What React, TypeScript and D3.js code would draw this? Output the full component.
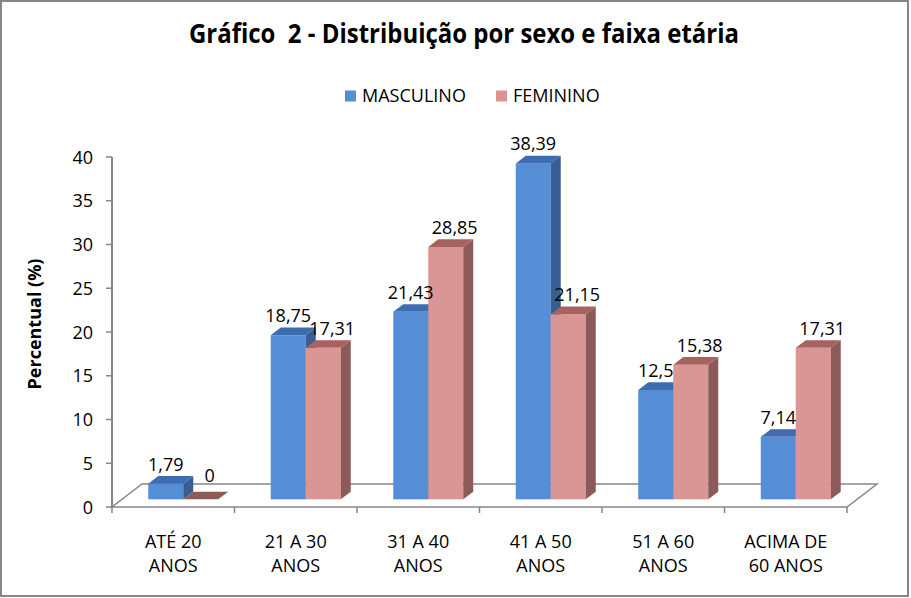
import { useMemo } from "react";
import * as d3 from "d3";

const WIDTH = 911;
const HEIGHT = 598;
const FONT = "'Open Sans', 'Noto Sans', sans-serif";

// data
const categories = [
  ["ATÉ 20", "ANOS"],
  ["21 A 30", "ANOS"],
  ["31 A 40", "ANOS"],
  ["41 A 50", "ANOS"],
  ["51 A 60", "ANOS"],
  ["ACIMA DE", "60 ANOS"],
];
const seriesNames = ["MASCULINO", "FEMININO"];
const masculino = [1.79, 18.75, 21.43, 38.39, 12.5, 7.14];
const feminino = [0, 17.31, 28.85, 21.15, 15.38, 17.31];
const yTicks = [0, 5, 10, 15, 20, 25, 30, 35, 40];

const PLOT = { left: 112, right: 847, top: 157, bottom: 507 };
const DEPTH = { dx: 30, dy: -23 };

const SERIES_COLORS = [
  { front: "#558ed5", top: "#3d6db0", side: "#375d92" },
  { front: "#d99694", top: "#a7625f", side: "#8c5a58" },
];

const fmt = (v: number) => String(v).replace(".", ",");

export default function App() {
  const catKeys = categories.map((c) => c.join(" "));

  const xScale = useMemo(
    () =>
      d3.scaleBand<string>().domain(catKeys).range([PLOT.left, PLOT.right]),
    []
  );
  const yScale = useMemo(
    () => d3.scaleLinear().domain([0, 40]).range([PLOT.bottom, PLOT.top]),
    []
  );

  const bw = xScale.bandwidth();
  const barW = bw / 3.5;
  // bars sit in the middle third of the floor depth
  const f0 = { dx: DEPTH.dx / 3, dy: DEPTH.dy / 3 };
  const bd = { dx: DEPTH.dx / 3, dy: DEPTH.dy / 3 };

  const bars = [masculino, feminino].flatMap((values, s) =>
    values.map((v, i) => {
      const x0 = (xScale(catKeys[i]) ?? 0) + bw / 2 - barW + s * barW + f0.dx;
      const yb = yScale(0) + f0.dy;
      const yt = yScale(v) + f0.dy;
      return { s, i, v, x0, x1: x0 + barW, yb, yt };
    })
  );

  const pts = (arr: number[][]) => arr.map((p) => p.join(",")).join(" ");

  return (
    <div style={{ position: "absolute", left: 0, top: 0 }}>
      <svg width={WIDTH} height={HEIGHT} style={{ display: "block" }}>
        <rect x={0} y={0} width={WIDTH} height={HEIGHT} fill="#fff" />
        <rect
          x={1}
          y={1}
          width={907}
          height={595}
          fill="#fff"
          stroke="#868686"
          strokeWidth={2}
        />

        {/* title */}
        <text
          x={464}
          y={43}
          textAnchor="middle"
          fontFamily={FONT}
          fontWeight="bold"
          fontSize={26}
          textLength={550}
          lengthAdjust="spacingAndGlyphs"
          style={{ whiteSpace: "pre" }}
        >
          {"Gráfico  2 - Distribuição por sexo e faixa etária"}
        </text>

        {/* legend */}
        {seriesNames.map((name, s) => {
          const lx = [345, 496][s];
          return (
            <g key={name}>
              <rect
                x={lx}
                y={90.5}
                width={11}
                height={11}
                fill={SERIES_COLORS[s].front}
              />
              <text
                x={lx + 17}
                y={101.5}
                fontFamily={FONT}
                fontSize={18}
                fill="#000"
              >
                {name}
              </text>
            </g>
          );
        })}

        {/* floor */}
        <polygon
          points={pts([
            [PLOT.left, PLOT.bottom],
            [PLOT.right, PLOT.bottom],
            [PLOT.right + DEPTH.dx, PLOT.bottom + DEPTH.dy],
            [PLOT.left + DEPTH.dx, PLOT.bottom + DEPTH.dy],
          ])}
          fill="#fff"
          stroke="#868686"
          strokeWidth={1.5}
        />

        {/* y axis */}
        <line
          x1={PLOT.left}
          x2={PLOT.left}
          y1={yScale(40)}
          y2={yScale(0)}
          stroke="#868686"
          strokeWidth={2}
        />
        {yTicks.map((t) => (
          <g key={t}>
            <line
              x1={PLOT.left - 6}
              x2={PLOT.left}
              y1={yScale(t)}
              y2={yScale(t)}
              stroke="#868686"
              strokeWidth={1.5}
            />
            <text
              x={93}
              y={yScale(t) + 6.5}
              textAnchor="end"
              fontFamily={FONT}
              fontSize={18}
            >
              {t}
            </text>
          </g>
        ))}
        <text
          transform={`translate(41,${(yScale(0) + yScale(40)) / 2 - 8}) rotate(-90)`}
          textAnchor="middle"
          fontFamily={FONT}
          fontWeight="bold"
          fontSize={18}
        >
          Percentual (%)
        </text>

        {/* x axis ticks and labels */}
        {catKeys.map((k, i) => (
          <g key={k}>
            <line
              x1={xScale(k) ?? 0}
              x2={xScale(k) ?? 0}
              y1={PLOT.bottom}
              y2={PLOT.bottom + 6}
              stroke="#868686"
              strokeWidth={1.5}
            />
            {categories[i].map((line, j) => (
              <text
                key={j}
                x={(xScale(k) ?? 0) + bw / 2}
                y={548 + j * 24.3}
                textAnchor="middle"
                fontFamily={FONT}
                fontSize={18}
              >
                {line}
              </text>
            ))}
          </g>
        ))}
        <line
          x1={PLOT.right}
          x2={PLOT.right}
          y1={PLOT.bottom}
          y2={PLOT.bottom + 6}
          stroke="#868686"
          strokeWidth={1.5}
        />

        {/* 3d bars */}
        {bars.map((b) => {
          const c = SERIES_COLORS[b.s];
          return (
            <g key={`${b.s}-${b.i}`}>
              {b.v > 0 && (
                <rect
                  x={b.x0}
                  y={b.yt}
                  width={b.x1 - b.x0}
                  height={b.yb - b.yt}
                  fill={c.front}
                />
              )}
              {b.v > 0 && (
                <polygon
                  points={pts([
                    [b.x1, b.yt],
                    [b.x1 + bd.dx, b.yt + bd.dy],
                    [b.x1 + bd.dx, b.yb + bd.dy],
                    [b.x1, b.yb],
                  ])}
                  fill={c.side}
                />
              )}
              <polygon
                points={pts([
                  [b.x0, b.yt],
                  [b.x1, b.yt],
                  [b.x1 + bd.dx, b.yt + bd.dy],
                  [b.x0 + bd.dx, b.yt + bd.dy],
                ])}
                fill={b.v > 0 ? c.top : c.side}
              />
            </g>
          );
        })}

        {/* data labels */}
        {bars.map((b) => (
          <text
            key={`l-${b.s}-${b.i}`}
            x={(b.x0 + b.x1) / 2 + b.s * 9}
            y={b.yt + bd.dy - (b.v > 0 ? 5.5 : 10)}
            textAnchor="middle"
            fontFamily={FONT}
            fontSize={18}
          >
            {fmt(b.v)}
          </text>
        ))}
      </svg>
    </div>
  );
}
